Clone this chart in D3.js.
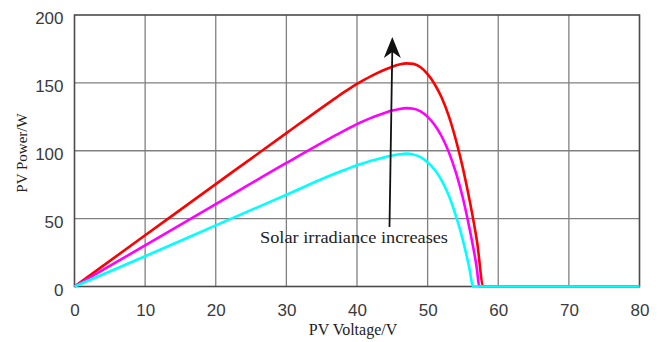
<!DOCTYPE html>
<html>
<head>
<meta charset="utf-8">
<script src="https://cdn.jsdelivr.net/npm/d3@7"></script>
<style>
  html, body { margin: 0; padding: 0; background: #fff; }
  svg { display: block; }
</style>
</head>
<body>
<svg id="chart" width="666" height="342"></svg>
<script>
// ---- data ----
const xTicks = [0, 10, 20, 30, 40, 50, 60, 70, 80];
const yTicks = [0, 50, 100, 150, 200];

const voltHigh = [0, 10, 20, 30, 37, 38, 39, 40, 41, 42, 43, 44, 45, 46, 47, 48, 49, 50, 51, 52, 53, 54, 55, 56, 57, 57.9, 60, 70, 80];
const powerHigh = [0, 37.7, 75.4, 113, 139, 142.6, 146, 149.2, 152.2, 155, 157.6, 159.9, 161.9, 163.5, 164.4, 164, 161.5, 156.5, 149, 139, 125.5, 108, 87, 62, 33, 0, 0, 0, 0];

const voltMid = [0, 10, 20, 30, 37, 38, 39, 40, 41, 42, 43, 44, 45, 46, 47, 48, 49, 50, 51, 52, 53, 54, 55, 56, 57, 57.3, 60, 70, 80];
const powerMid = [0, 30.3, 60.6, 91, 111.5, 114.3, 117, 119.6, 122, 124.2, 126.2, 128, 129.6, 130.8, 131.4, 131, 129, 125, 119, 110.5, 99, 84, 65, 41, 12, 0, 0, 0, 0];

const voltLow = [0, 10, 20, 30, 37, 38, 39, 40, 41, 42, 43, 44, 45, 46, 47, 48, 49, 50, 51, 52, 53, 54, 55, 56, 56.4, 60, 70, 80];
const powerLow = [0, 22.3, 45, 67.6, 83.4, 85.4, 87.4, 89.3, 91, 92.6, 94, 95.3, 96.5, 97.4, 97.9, 97.3, 95.3, 91.5, 86, 78, 67, 52, 34, 11, 0, 0, 0, 0];

const seriesColors = ["#ff0000", "#ff00ff", "#00ffff"];
const annotationText = "Solar irradiance increases";
const xTitle = "PV Voltage/V";
const yTitle = "PV Power/W";

(function () {
// ---- layout ----
const svg = d3.select("#chart");
const pLeft = 74.5, pRight = 639.5, pTop = 15, pBottom = 286.5;

const x = d3.scaleLinear().domain([0, 80]).range([pLeft, pRight]);
const y = d3.scaleLinear().domain([0, 200]).range([pBottom, pTop]);

// grid
const grid = svg.append("g");
grid.selectAll("line.v").data(xTicks.slice(1, -1)).join("line")
  .attr("class", "v")
  .attr("x1", d => x(d)).attr("x2", d => x(d))
  .attr("y1", pTop).attr("y2", pBottom)
  .attr("stroke", "#808080").attr("stroke-width", 1.3);
grid.selectAll("line.h").data(yTicks.slice(1, -1)).join("line")
  .attr("class", "h")
  .attr("x1", pLeft).attr("x2", pRight)
  .attr("y1", d => y(d)).attr("y2", d => y(d))
  .attr("stroke", "#808080").attr("stroke-width", 1.3);

// frame
svg.append("rect")
  .attr("x", pLeft).attr("y", pTop)
  .attr("width", pRight - pLeft).attr("height", pBottom - pTop)
  .attr("fill", "none").attr("stroke", "#4a4a4a").attr("stroke-width", 1.6);

// axes (labels only)
const xAxis = d3.axisBottom(x).tickValues(xTicks).tickSize(0).tickPadding(17);
const gx = svg.append("g").attr("transform", `translate(0,${pBottom})`).call(xAxis);
gx.select(".domain").remove();
gx.selectAll("text")
  .attr("dy", "0")
  .attr("font-family", "'Liberation Sans', Arial, sans-serif")
  .attr("font-size", 17).attr("fill", "#3a3a3a")
  .attr("y", 29.5);

const yAxis = d3.axisLeft(y).tickValues(yTicks).tickSize(0).tickPadding(11);
const gy = svg.append("g").attr("transform", `translate(${pLeft},0)`).call(yAxis);
gy.select(".domain").remove();
gy.selectAll("text")
  .attr("dy", "0.5em")
  .attr("font-family", "'Liberation Sans', Arial, sans-serif")
  .attr("font-size", 17).attr("fill", "#3a3a3a");

// curves
const line = d3.line().x(d => x(d[0])).y(d => y(d[1])).curve(d3.curveMonotoneX);
const series = [
  d3.zip(voltHigh, powerHigh),
  d3.zip(voltMid, powerMid),
  d3.zip(voltLow, powerLow)
];
svg.append("g").selectAll("path").data(series).join("path")
  .attr("d", line)
  .attr("fill", "none")
  .attr("stroke", (d, i) => seriesColors[i])
  .attr("stroke-width", 2.6)
  .attr("stroke-linejoin", "round");

// annotation arrow
const ax0 = x(44.6), ay0 = 227, ax1 = x(45.0), ay1 = 37;
svg.append("line")
  .attr("x1", ax0).attr("y1", ay0).attr("x2", ax1).attr("y2", ay1 + 12)
  .attr("stroke", "#111").attr("stroke-width", 1.8);
svg.append("path")
  .attr("d", `M${ax1},${ay1} L${ax1 + 8.5},${ay1 + 21} L${ax1},${ay1 + 15} L${ax1 - 8.5},${ay1 + 21} Z`)
  .attr("fill", "#111");

svg.append("text")
  .attr("x", 260).attr("y", 243)
  .attr("font-family", "'Liberation Serif', 'Times New Roman', serif")
  .attr("font-size", 16.5).attr("fill", "#222")
  .attr("textLength", 188).attr("lengthAdjust", "spacingAndGlyphs")
  .text(annotationText);

// axis titles
svg.append("text")
  .attr("x", 353).attr("y", 335)
  .attr("text-anchor", "middle")
  .attr("font-family", "'Liberation Serif', 'Times New Roman', serif")
  .attr("font-size", 16).attr("fill", "#222")
  .text(xTitle);

svg.append("text")
  .attr("transform", `translate(27,153) rotate(-90)`)
  .attr("text-anchor", "middle")
  .attr("font-family", "'Liberation Serif', 'Times New Roman', serif")
  .attr("font-size", 15).attr("fill", "#222")
  .text(yTitle);
})();
</script>
</body>
</html>
